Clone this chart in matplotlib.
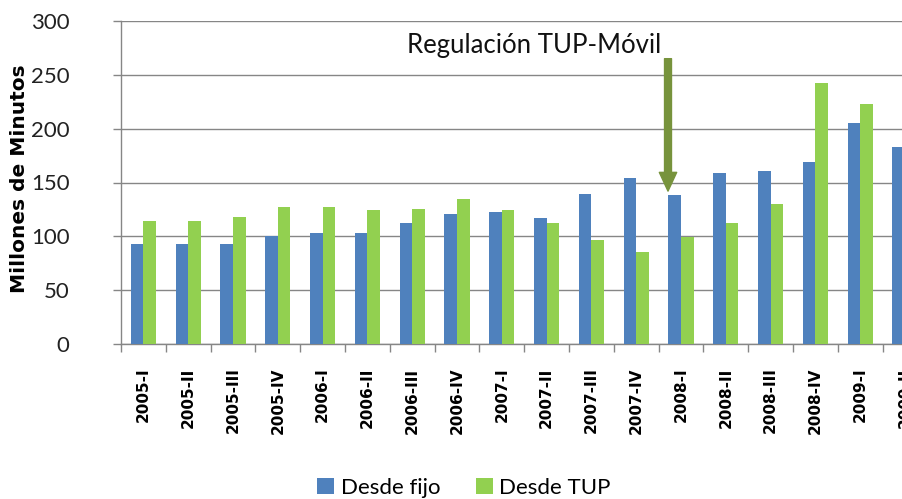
import matplotlib.pyplot as plt
import numpy as np

quarters = ["2005-I", "2005-II", "2005-III", "2005-IV",
            "2006-I", "2006-II", "2006-III", "2006-IV",
            "2007-I", "2007-II", "2007-III", "2007-IV",
            "2008-I", "2008-II", "2008-III", "2008-IV",
            "2009-I", "2009-II"]
desde_fijo = [93, 93, 93, 100, 103, 103, 112, 121, 123, 117, 139, 154,
              138, 159, 161, 169, 205, 183]
# the green bar of 2009-II falls outside the cropped picture
desde_tup = [114, 114, 118, 127, 127, 124, 125, 135, 124, 112, 97, 85,
             99, 112, 130, 242, 223]
yticks = [0, 50, 100, 150, 200, 250, 300]

BLUE = "#4F81BD"
GREEN = "#92D050"
GRAY = "#868686"

fig = plt.figure(figsize=(9.02, 4.99), dpi=100)
# axes run past the right edge, the original picture is cropped there
ax = fig.add_axes([121 / 902, 155 / 499, 806.4 / 902, 323 / 499])

x = np.arange(len(quarters))
w = 0.283
ax.bar(x - w / 2, desde_fijo, w, color=BLUE, label="Desde fijo", zorder=3)
ax.bar(np.arange(len(desde_tup)) + w / 2, desde_tup, w, color=GREEN,
       label="Desde TUP", zorder=3)

ax.set_xlim(-0.5, len(quarters) - 0.5)
ax.set_ylim(0, 300)
ax.set_yticks(yticks)
ax.set_yticklabels([str(v) for v in yticks], fontfamily="Lato", fontsize=16,
                   color="#222222")
ax.tick_params(axis="y", length=6, width=1, color=GRAY, pad=31)

ax.set_xticks(x)
ax.set_xticklabels(quarters, rotation=90, fontweight="bold", fontsize=11,
                   va="top", ha="center")
ax.tick_params(axis="x", which="major", length=0, pad=17)
ax.set_xticks(np.arange(len(quarters) + 1) - 0.5, minor=True)
ax.tick_params(axis="x", which="minor", length=6, width=1, color=GRAY)

ax.grid(axis="y", color=GRAY, linewidth=1, zorder=0)
for s in ["top", "right"]:
    ax.spines[s].set_visible(False)
for s in ["left", "bottom"]:
    ax.spines[s].set_color(GRAY)
    ax.spines[s].set_linewidth(1)

fig.text(20 / 902, 1 - 179 / 499, "Millones de Minutos", rotation=90,
         fontweight="bold", fontsize=14.5, ha="center", va="center")

ax.annotate("", xy=(11.71, 142), xytext=(11.71, 265),
            arrowprops=dict(width=5, headwidth=12.5, headlength=13.5,
                            color="#77933C", shrink=0))
ax.text(8.72, 277, "Regulación TUP-Móvil", fontfamily="Lato", fontsize=18.5,
        ha="center", va="center", color="#111111")

fig.legend(loc="center", bbox_to_anchor=(464 / 902, 1 - 488 / 499), ncol=2,
           frameon=False, prop={"family": "Lato", "size": 16},
           handlelength=0.75, handleheight=0.75, handletextpad=0.3,
           columnspacing=1.6)

fig.savefig("out.png", dpi=100)
